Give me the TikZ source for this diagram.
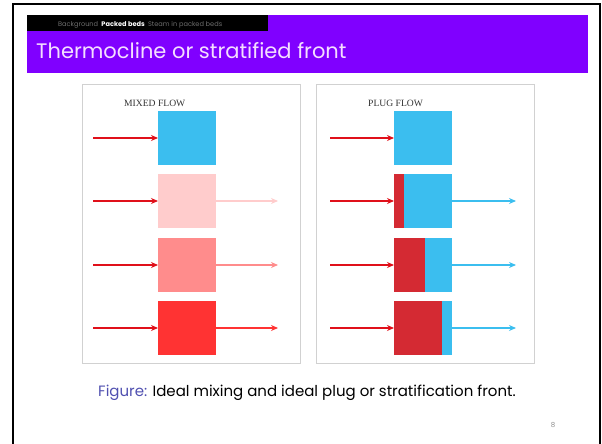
\documentclass[tikz,border=0pt]{standalone}
\usepackage{fontspec}
\setmainfont{Poppins}
\newfontfamily\labelfont{Liberation Serif}
\usepackage{xcolor}
\definecolor{slidepurple}{RGB}{128,0,255}
\definecolor{titlewhite}{RGB}{244,222,255}
\definecolor{navgray}{RGB}{110,110,110}
\definecolor{tankblue}{RGB}{59,190,239}
\definecolor{flowred}{RGB}{224,16,26}
\definecolor{plugred}{RGB}{212,42,51}
\definecolor{mixlight}{RGB}{255,204,204}
\definecolor{mixmid}{RGB}{255,140,140}
\definecolor{mixdark}{RGB}{255,51,51}
\definecolor{capblue}{RGB}{80,80,176}
\usetikzlibrary{arrows.meta,positioning}

\tikzset{
  panel/.style={draw=black!18, line width=0.9pt},
  tank/.style={minimum width=58pt, minimum height=54pt, inner sep=0pt, outer sep=0pt},
  inflow/.style={-{Stealth[length=7pt,width=6pt]}, line width=2.4pt, flowred},
  outflow/.style={-{Stealth[length=7pt,width=6pt]}, line width=1.8pt},
  paneltitle/.style={font=\labelfont\fontsize{9.6}{10}\selectfont, text=black!80, anchor=base west, inner sep=0pt}
}

\begin{document}
\begin{tikzpicture}[x=1pt,y=-1pt]
  \useasboundingbox (0,0) rectangle (602,444);

  % Slide frame
  \draw[line width=2pt] (13,444) -- (13,4) -- (600,4) -- (600,444);

  % Title banner
  \fill[slidepurple] (27,15) rectangle (588,73);
  \fill[black] (27,15) rectangle (268,31);
  \node[anchor=base west, inner sep=0pt, font=\fontsize{6.6}{7}\selectfont] (nav) at (58,27)
    {\textcolor{navgray}{Background}\enspace\textcolor{white}{\bfseries Packed beds}\enspace\textcolor{navgray}{Steam in packed beds}};
  \node[anchor=base west, inner sep=0pt, text=titlewhite, font=\fontsize{21}{24}\selectfont] (title) at (36,59)
    {Thermocline or stratified front};

  % Panels
  \draw[panel] (82,84) rectangle (300,363);
  \draw[panel] (316,84) rectangle (534,363);
  \node[paneltitle] (mixlbl) at (124,106) {MIXED FLOW};
  \node[paneltitle] (pluglbl) at (368,106) {PLUG FLOW};

  % Mixed flow tanks
  \node[tank, fill=tankblue] (m1) at (187,138) {};
  \node[tank, fill=mixlight] (m2) at (187,201) {};
  \node[tank, fill=mixmid]   (m3) at (187,265) {};
  \node[tank, fill=mixdark]  (m4) at (187,328) {};

  % Plug flow tanks with red front
  \node[tank, fill=tankblue] (p1) at (423,138) {};
  \node[tank, fill=tankblue] (p2) at (423,201) {};
  \node[tank, fill=tankblue] (p3) at (423,265) {};
  \node[tank, fill=tankblue] (p4) at (423,328) {};
  \fill[plugred] (p2.north west) rectangle ([xshift=10pt]p2.south west);
  \fill[plugred] (p3.north west) rectangle ([xshift=31pt]p3.south west);
  \fill[plugred] (p4.north west) rectangle ([xshift=48pt]p4.south west);

  % Inflow arrows
  \foreach \t in {m1,m2,m3,m4} {
    \coordinate (\t in) at (93,0 |- \t.west);
    \draw[inflow] (\t in) -- (\t.west);
  }
  \foreach \t in {p1,p2,p3,p4} {
    \coordinate (\t in) at (330,0 |- \t.west);
    \draw[inflow] (\t in) -- (\t.west);
  }

  % Outflow arrows
  \coordinate (m2out) at (278,0 |- m2.east);
  \coordinate (m3out) at (278,0 |- m3.east);
  \coordinate (m4out) at (278,0 |- m4.east);
  \draw[outflow, mixlight] (m2.east) -- (m2out);
  \draw[outflow, mixmid] (m3.east) -- (m3out);
  \draw[outflow, mixdark] (m4.east) -- (m4out);
  \foreach \t in {p2,p3,p4} {
    \coordinate (\t out) at (516,0 |- \t.east);
    \draw[outflow, tankblue] (\t.east) -- (\t out);
  }

  % Caption and page number
  \node[anchor=base west, inner sep=0pt, font=\fontsize{15}{17}\selectfont] (caption) at (98,396)
    {\textcolor{capblue}{Figure:} Ideal mixing and ideal plug or stratification front.};
  \node[inner sep=0pt, text=black!45, font=\fontsize{7}{8}\selectfont] (pagenum) at (553,425) {8};
\end{tikzpicture}
\end{document}
